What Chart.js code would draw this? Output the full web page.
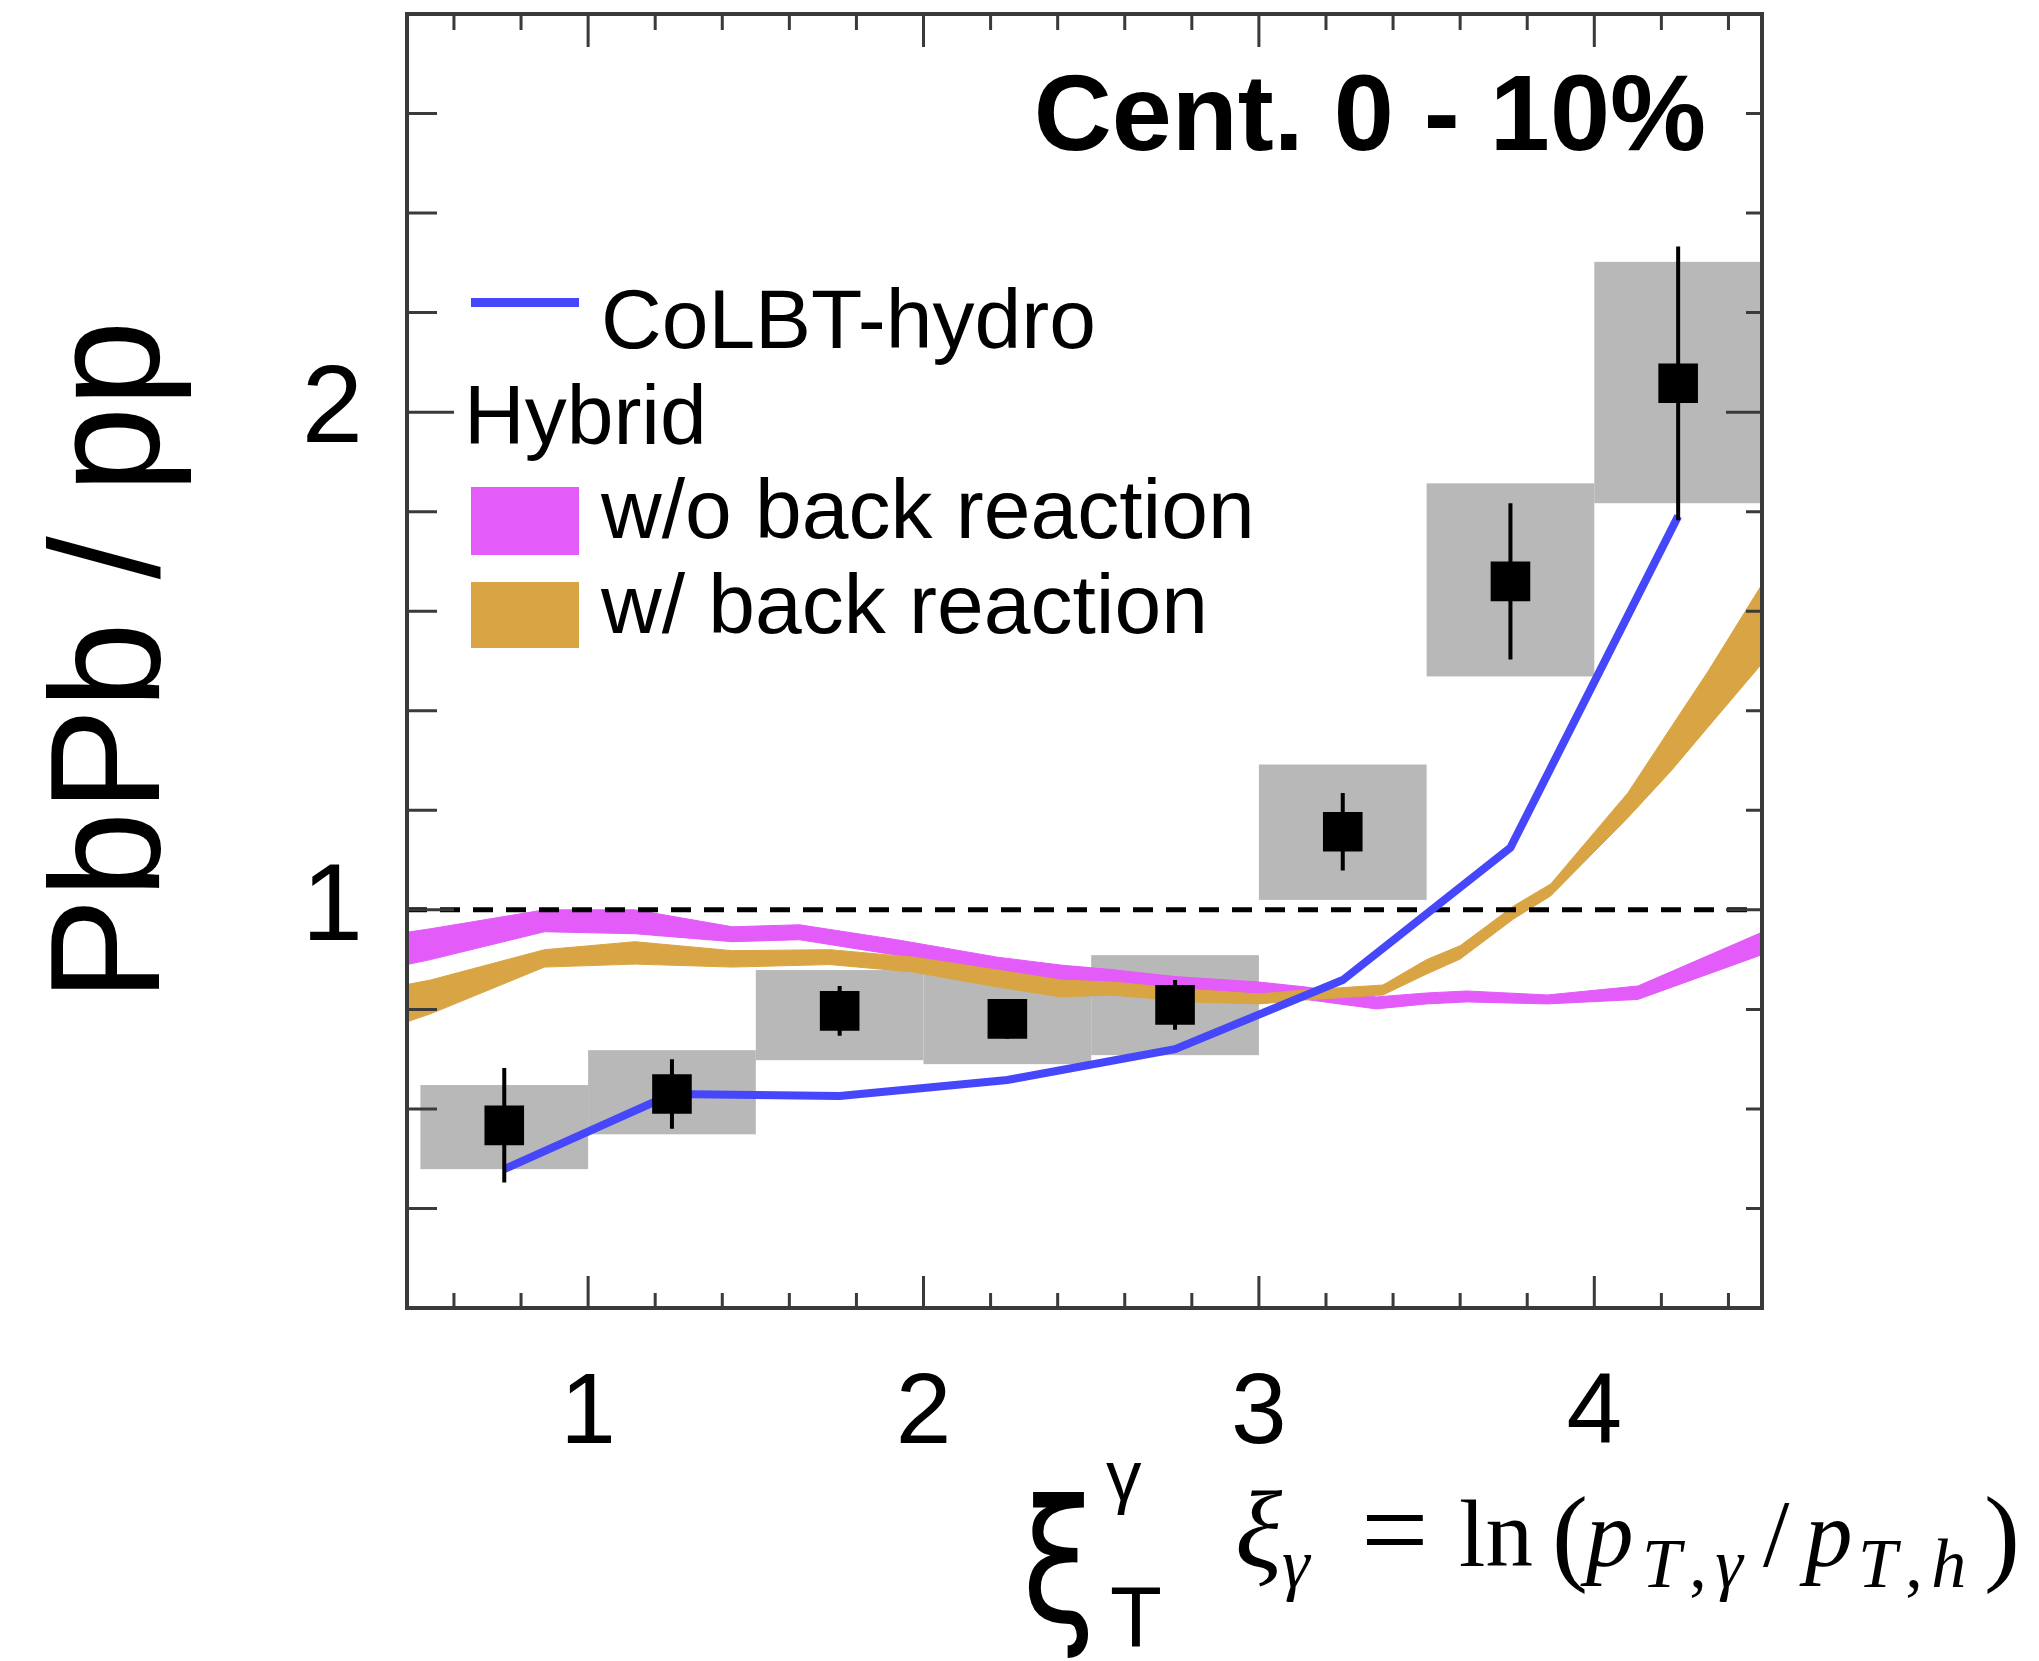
<!DOCTYPE html>
<html>
<head>
<meta charset="utf-8">
<script src="https://cdn.jsdelivr.net/npm/chart.js@4/dist/chart.umd.min.js"></script>
<style>
  html, body { margin: 0; padding: 0; background: #fff; }
  #wrap { position: relative; width: 2039px; height: 1661px; overflow: hidden; font-family: "Liberation Sans", Arial, Helvetica, sans-serif; }
  #plot { position: absolute; left: 0; top: 0; }
  .lbl { position: absolute; white-space: nowrap; line-height: 1; color: #000; }
  .leg { font-size: 84px; }
  .sw { position: absolute; }
  .fm { position: absolute; white-space: nowrap; line-height: 1; color: #000; font-family: "Liberation Serif", "Times New Roman", serif; font-size: 95px; top: 1487px; }
  .fs { font-size: 70px; top: 1529px; letter-spacing: 0.12em; }
  .fp { font-size: 108px; top: 1481px; }
</style>
</head>
<body>
<div id="wrap">
  <canvas id="plot" width="2039" height="1661"></canvas>

  <div class="lbl" style="right:333px; top:59px; font-size:108px; font-weight:bold;">Cent. 0 - 10%</div>

  <div class="sw" style="left:471px; top:298px; width:108px; height:9px; background:#4646fa;"></div>
  <div class="lbl leg" style="left:601px; top:277px;">CoLBT-hydro</div>
  <div class="lbl leg" style="left:464px; top:373px;">Hybrid</div>
  <div class="sw" style="left:471px; top:487px; width:108px; height:68px; background:#e35bf9;"></div>
  <div class="lbl leg" style="left:601px; top:467px;">w/o back reaction</div>
  <div class="sw" style="left:471px; top:582px; width:108px; height:66px; background:#d9a443;"></div>
  <div class="lbl leg" style="left:601px; top:562px;">w/ back reaction</div>

  <!-- x axis title -->
  <div class="lbl" style="left:1022px; top:1476px; font-size:132px; font-family:'DejaVu Sans', sans-serif; transform:scale(1,1.3); transform-origin:0 0;">ξ</div>
  <div class="lbl" style="left:1106px; top:1440px; font-size:71px;">γ</div>
  <div class="lbl" style="left:1110px; top:1574px; font-size:85px;">T</div>

  <!-- definition of xi -->
  <span class="fm" style="left:1235px; font-size:110px; top:1475px;"><i>ξ</i></span>
  <span class="fm fs" style="left:1282px;"><i>γ</i></span>
  <span class="fm" style="left:1361px; font-size:120px; top:1470px;">=</span>
  <span class="fm" style="left:1459px;">ln</span>
  <span class="fm fp" style="left:1552px;">(</span>
  <span class="fm" style="left:1586px;"><i>p</i></span>
  <span class="fm fs" style="left:1642px;"><i>T</i>,<i>γ</i></span>
  <span class="fm" style="left:1763px;">/</span>
  <span class="fm" style="left:1805px;"><i>p</i></span>
  <span class="fm fs" style="left:1858px;"><i>T</i>,<i>h</i></span>
  <span class="fm fp" style="left:1984px;">)</span>
</div>

<script>
const FONT = '"Liberation Sans", Arial, Helvetica, sans-serif';

// axis ranges and labelled ticks
const xMin = 0.46, xMax = 4.5, yMin = 0.2, yMax = 2.8, minorStep = 0.2;
const xTickLabels = [1, 2, 3, 4];
const yTickLabels = [1, 2];

// CMS data, PbPb/pp vs xi_T^gamma
const binEdges = [0.5, 1.0, 1.5, 2.0, 2.5, 3.0, 3.5, 4.0, 4.5];
const xiCenters = [0.75, 1.25, 1.75, 2.25, 2.75, 3.25, 3.75, 4.25];
const ratio = [0.567, 0.630, 0.797, 0.781, 0.809, 1.157, 1.660, 2.058];
const statErr = [0.115, 0.070, 0.050, 0.040, 0.050, 0.078, 0.157, 0.275];
const sysLow = [0.479, 0.549, 0.698, 0.690, 0.708, 1.020, 1.469, 1.817];
const sysHigh = [0.648, 0.718, 0.879, 0.876, 0.909, 1.292, 1.857, 2.302];

// CoLBT-hydro
const colbtY = [0.479, 0.630, 0.626, 0.658, 0.720, 0.859, 1.125, 1.791];

// Hybrid w/o back reaction (band)
const noBrX = [0.46, 0.53, 0.87, 1.14, 1.43, 1.63, 1.92, 2.22, 2.41, 2.56, 2.75, 3.0, 3.14, 3.35, 3.5, 3.62, 3.86, 4.13, 4.5];
const noBrHi = [0.955, 0.962, 1.0, 1.0, 0.966, 0.970, 0.940, 0.905, 0.889, 0.880, 0.866, 0.855, 0.845, 0.825, 0.833, 0.837, 0.829, 0.847, 0.955];
const noBrLo = [0.890, 0.900, 0.956, 0.952, 0.936, 0.940, 0.909, 0.879, 0.859, 0.852, 0.840, 0.831, 0.820, 0.801, 0.811, 0.815, 0.811, 0.820, 0.910];

// Hybrid w/ back reaction (band)
const brX = [0.46, 0.53, 0.87, 1.14, 1.43, 1.72, 1.97, 2.22, 2.41, 2.56, 2.8, 3.0, 3.14, 3.37, 3.5, 3.6, 3.76, 3.87, 4.1, 4.23, 4.34, 4.5];
const brHi = [0.850, 0.859, 0.920, 0.936, 0.918, 0.920, 0.905, 0.879, 0.859, 0.855, 0.840, 0.831, 0.839, 0.849, 0.900, 0.928, 1.008, 1.052, 1.235, 1.368, 1.480, 1.654];
const brLo = [0.775, 0.791, 0.885, 0.891, 0.885, 0.890, 0.875, 0.845, 0.825, 0.829, 0.815, 0.811, 0.819, 0.829, 0.871, 0.901, 0.982, 1.028, 1.185, 1.280, 1.368, 1.495];

const BLUE = '#4646fa', MAGENTA = '#e35bf9', ORANGE = '#d9a443', GREY = '#b8b8b8';

const pts = (xs, ys) => xs.map((x, i) => ({ x: x, y: ys[i] }));

// grey systematic boxes, under everything
const sysBoxes = {
    id: 'sysBoxes',
    beforeDatasetsDraw(chart) {
        const { ctx, chartArea: a, scales: { x, y } } = chart;
        ctx.save();
        ctx.beginPath();
        ctx.rect(a.left, a.top, a.width, a.height);
        ctx.clip();
        ctx.fillStyle = GREY;
        xiCenters.forEach((c, i) => {
            const x0 = x.getPixelForValue(binEdges[i]);
            const x1 = x.getPixelForValue(binEdges[i + 1]);
            const y0 = y.getPixelForValue(sysHigh[i]);
            const y1 = y.getPixelForValue(sysLow[i]);
            ctx.fillRect(x0, y0, x1 - x0, y1 - y0);
        });
        ctx.restore();
    }
};

// stat error bars, drawn just before the squares
const statBars = {
    id: 'statBars',
    beforeDatasetDraw(chart, args) {
        if (args.index !== 0) return;
        const { ctx, scales: { x, y } } = chart;
        ctx.save();
        ctx.strokeStyle = '#000';
        ctx.lineWidth = 4;
        ctx.beginPath();
        xiCenters.forEach((c, i) => {
            const px = x.getPixelForValue(c);
            ctx.moveTo(px, y.getPixelForValue(ratio[i] - statErr[i]));
            ctx.lineTo(px, y.getPixelForValue(ratio[i] + statErr[i]));
        });
        ctx.stroke();
        ctx.restore();
    }
};

// ROOT style frame with inward ticks on all sides
const frameTicks = {
    id: 'frameTicks',
    afterDraw(chart) {
        const { ctx, chartArea: a, scales: { x, y } } = chart;
        const isMajor = v => Math.abs(v - Math.round(v)) < 1e-6;
        ctx.save();
        ctx.strokeStyle = '#3a3a3a';
        ctx.lineWidth = 3;
        ctx.beginPath();
        for (let k = Math.ceil(xMin / minorStep - 1e-9); k * minorStep < xMax - 1e-9; k++) {
            const v = k * minorStep;
            const px = x.getPixelForValue(v);
            const bl = isMajor(v) ? 32 : 15, tl = isMajor(v) ? 33 : 16;
            ctx.moveTo(px, a.bottom); ctx.lineTo(px, a.bottom - bl);
            ctx.moveTo(px, a.top); ctx.lineTo(px, a.top + tl);
        }
        for (let k = Math.ceil(yMin / minorStep - 1e-9) + 1; k * minorStep < yMax - 1e-9; k++) {
            const v = k * minorStep;
            const py = y.getPixelForValue(v);
            const ll = isMajor(v) ? 47 : 30, rl = isMajor(v) ? 36 : 16;
            ctx.moveTo(a.left, py); ctx.lineTo(a.left + ll, py);
            ctx.moveTo(a.right, py); ctx.lineTo(a.right - rl, py);
        }
        ctx.stroke();
        ctx.lineWidth = 4;
        ctx.strokeRect(a.left, a.top, a.width, a.height);
        ctx.restore();
    }
};

new Chart(document.getElementById('plot'), {
    type: 'line',
    data: {
        datasets: [
            {
                label: 'Data',
                data: pts(xiCenters, ratio),
                showLine: false,
                pointStyle: 'rect',
                pointRadius: 28,
                pointBackgroundColor: '#000',
                pointBorderWidth: 0,
                order: 0
            },
            {
                label: 'CoLBT-hydro',
                data: pts(xiCenters, colbtY),
                borderColor: BLUE,
                borderWidth: 8,
                pointRadius: 0,
                tension: 0,
                fill: false,
                order: 1
            },
            {
                label: 'unity',
                data: [{ x: xMin, y: 1 }, { x: xMax, y: 1 }],
                borderColor: '#000',
                borderWidth: 5,
                borderDash: [20, 13],
                pointRadius: 0,
                fill: false,
                order: 2
            },
            {
                label: 'w/ back reaction',
                data: pts(brX, brHi),
                borderColor: ORANGE,
                backgroundColor: ORANGE,
                borderWidth: 1,
                pointRadius: 0,
                fill: '+1',
                order: 3
            },
            {
                label: 'w/ back reaction low',
                data: pts(brX, brLo),
                borderColor: ORANGE,
                borderWidth: 1,
                pointRadius: 0,
                fill: false,
                order: 3
            },
            {
                label: 'w/o back reaction',
                data: pts(noBrX, noBrHi),
                borderColor: MAGENTA,
                backgroundColor: MAGENTA,
                borderWidth: 1,
                pointRadius: 0,
                fill: '+1',
                order: 4
            },
            {
                label: 'w/o back reaction low',
                data: pts(noBrX, noBrLo),
                borderColor: MAGENTA,
                borderWidth: 1,
                pointRadius: 0,
                fill: false,
                order: 4
            }
        ]
    },
    options: {
        responsive: false,
        animation: false,
        devicePixelRatio: 1,
        layout: { autoPadding: false, padding: { top: 14, right: 277, bottom: 0, left: 0 } },
        plugins: { legend: { display: false }, tooltip: { enabled: false } },
        scales: {
            x: {
                type: 'linear',
                min: xMin,
                max: xMax,
                grid: { display: false },
                border: { display: false },
                afterBuildTicks: s => { s.ticks = xTickLabels.map(v => ({ value: v })); },
                afterFit: s => { s.height = 353; s.paddingLeft = 0; s.paddingRight = 0; },
                ticks: {
                    font: { size: 100, family: FONT },
                    color: '#000',
                    padding: 39,
                    maxRotation: 0,
                    autoSkip: false,
                    callback: v => String(v)
                }
            },
            y: {
                type: 'linear',
                min: yMin,
                max: yMax,
                grid: { display: false },
                border: { display: false },
                afterBuildTicks: s => { s.ticks = yTickLabels.map(v => ({ value: v })); },
                afterFit: s => { s.width = 407; s.paddingTop = 0; s.paddingBottom = 0; },
                ticks: {
                    font: { size: 110, family: FONT },
                    color: '#000',
                    padding: 36,
                    callback: v => String(v)
                },
                title: {
                    display: true,
                    text: 'PbPb / pp',
                    color: '#000',
                    font: { size: 155, family: FONT },
                    padding: { top: 23, bottom: 0 }
                }
            }
        }
    },
    plugins: [sysBoxes, statBars, frameTicks]
});
</script>
</body>
</html>
